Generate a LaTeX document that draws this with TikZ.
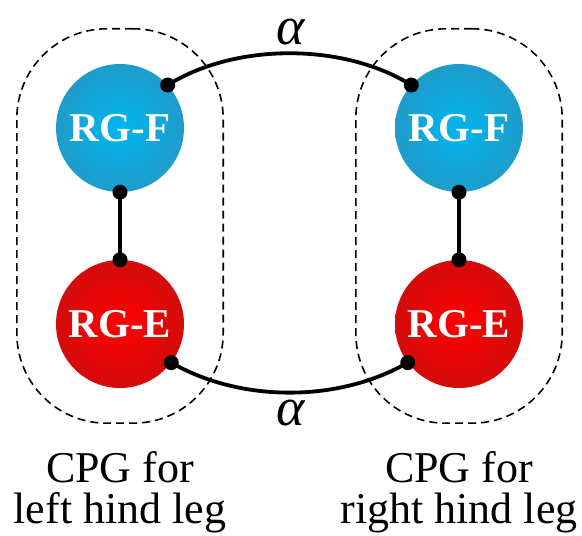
\documentclass[tikz,border=0pt]{standalone}
\usepackage{fontspec}
\setmainfont{Liberation Serif}
\usepackage{tikz}
\usetikzlibrary{positioning, fit}

\definecolor{blueIn}{RGB}{0,180,240}
\definecolor{blueOut}{RGB}{58,136,168}
\definecolor{redIn}{RGB}{255,0,0}
\definecolor{redOut}{RGB}{172,22,22}
\pgfdeclareradialshading{blueball}{\pgfpoint{0bp}{0bp}}{color(0bp)=(blueIn); color(47bp)=(blueOut); color(50bp)=(blueOut)}
\pgfdeclareradialshading{redball}{\pgfpoint{0bp}{0bp}}{color(0bp)=(redIn); color(47bp)=(redOut); color(50bp)=(redOut)}

\tikzset{
    rg/.style={circle, minimum size=128pt, inner sep=0pt, text=white,
        font=\bfseries\fontsize{41}{41}\selectfont},
    flexor/.style={rg, shading=blueball},
    extensor/.style={rg, shading=redball},
    cpgbox/.style={draw, dash pattern=on 8pt off 5pt, line width=1.6pt,
        rounded corners=90pt, inner xsep=39pt, inner ysep=35pt},
    link/.style={line width=3.8pt},
    caption/.style={align=center, inner sep=0pt,
        font=\fontsize{44}{41}\selectfont},
    weight/.style={inner sep=0pt, font=\itshape\fontsize{54}{54}\selectfont}
}

\begin{document}
\begin{tikzpicture}[x=1pt, y=1pt]
    \useasboundingbox (0,0) rectangle (582,536);
    % the four rhythm generators
    \node[flexor] (fl) at (120,408) {RG-F};
    \node[extensor] (el) at (120,212) {RG-E};
    \node[flexor] (fr) at (459,408) {RG-F};
    \node[extensor] (er) at (459,212) {RG-E};
    % one CPG per leg
    \node[cpgbox, fit=(fl) (el)] (cpgl) {};
    \node[cpgbox, fit=(fr) (er)] (cpgr) {};
    \node[caption, below=27pt of cpgl] (capl) {CPG for\\left hind leg};
    \node[caption, below=27pt of cpgr] (capr) {CPG for\\right hind leg};
    % couplings
    \draw[link] (fl.-90) -- (el.90);
    \draw[link] (fr.-90) -- (er.90);
    \draw[link] (fl.42) .. controls +(32:80) and +(148:80) .. (fr.138);
    \draw[link] (el.-37) .. controls +(-30:80) and +(-150:80) .. (er.-143);
    \node[weight] (at) at (291,504) {α};
    \node[weight] (ab) at (291,123) {α};
    \foreach \p in {fl.42, fl.-90, el.90, el.-37, fr.138, fr.-90, er.90, er.-143}
        \fill (\p) circle (7.5pt);
\end{tikzpicture}
\end{document}
